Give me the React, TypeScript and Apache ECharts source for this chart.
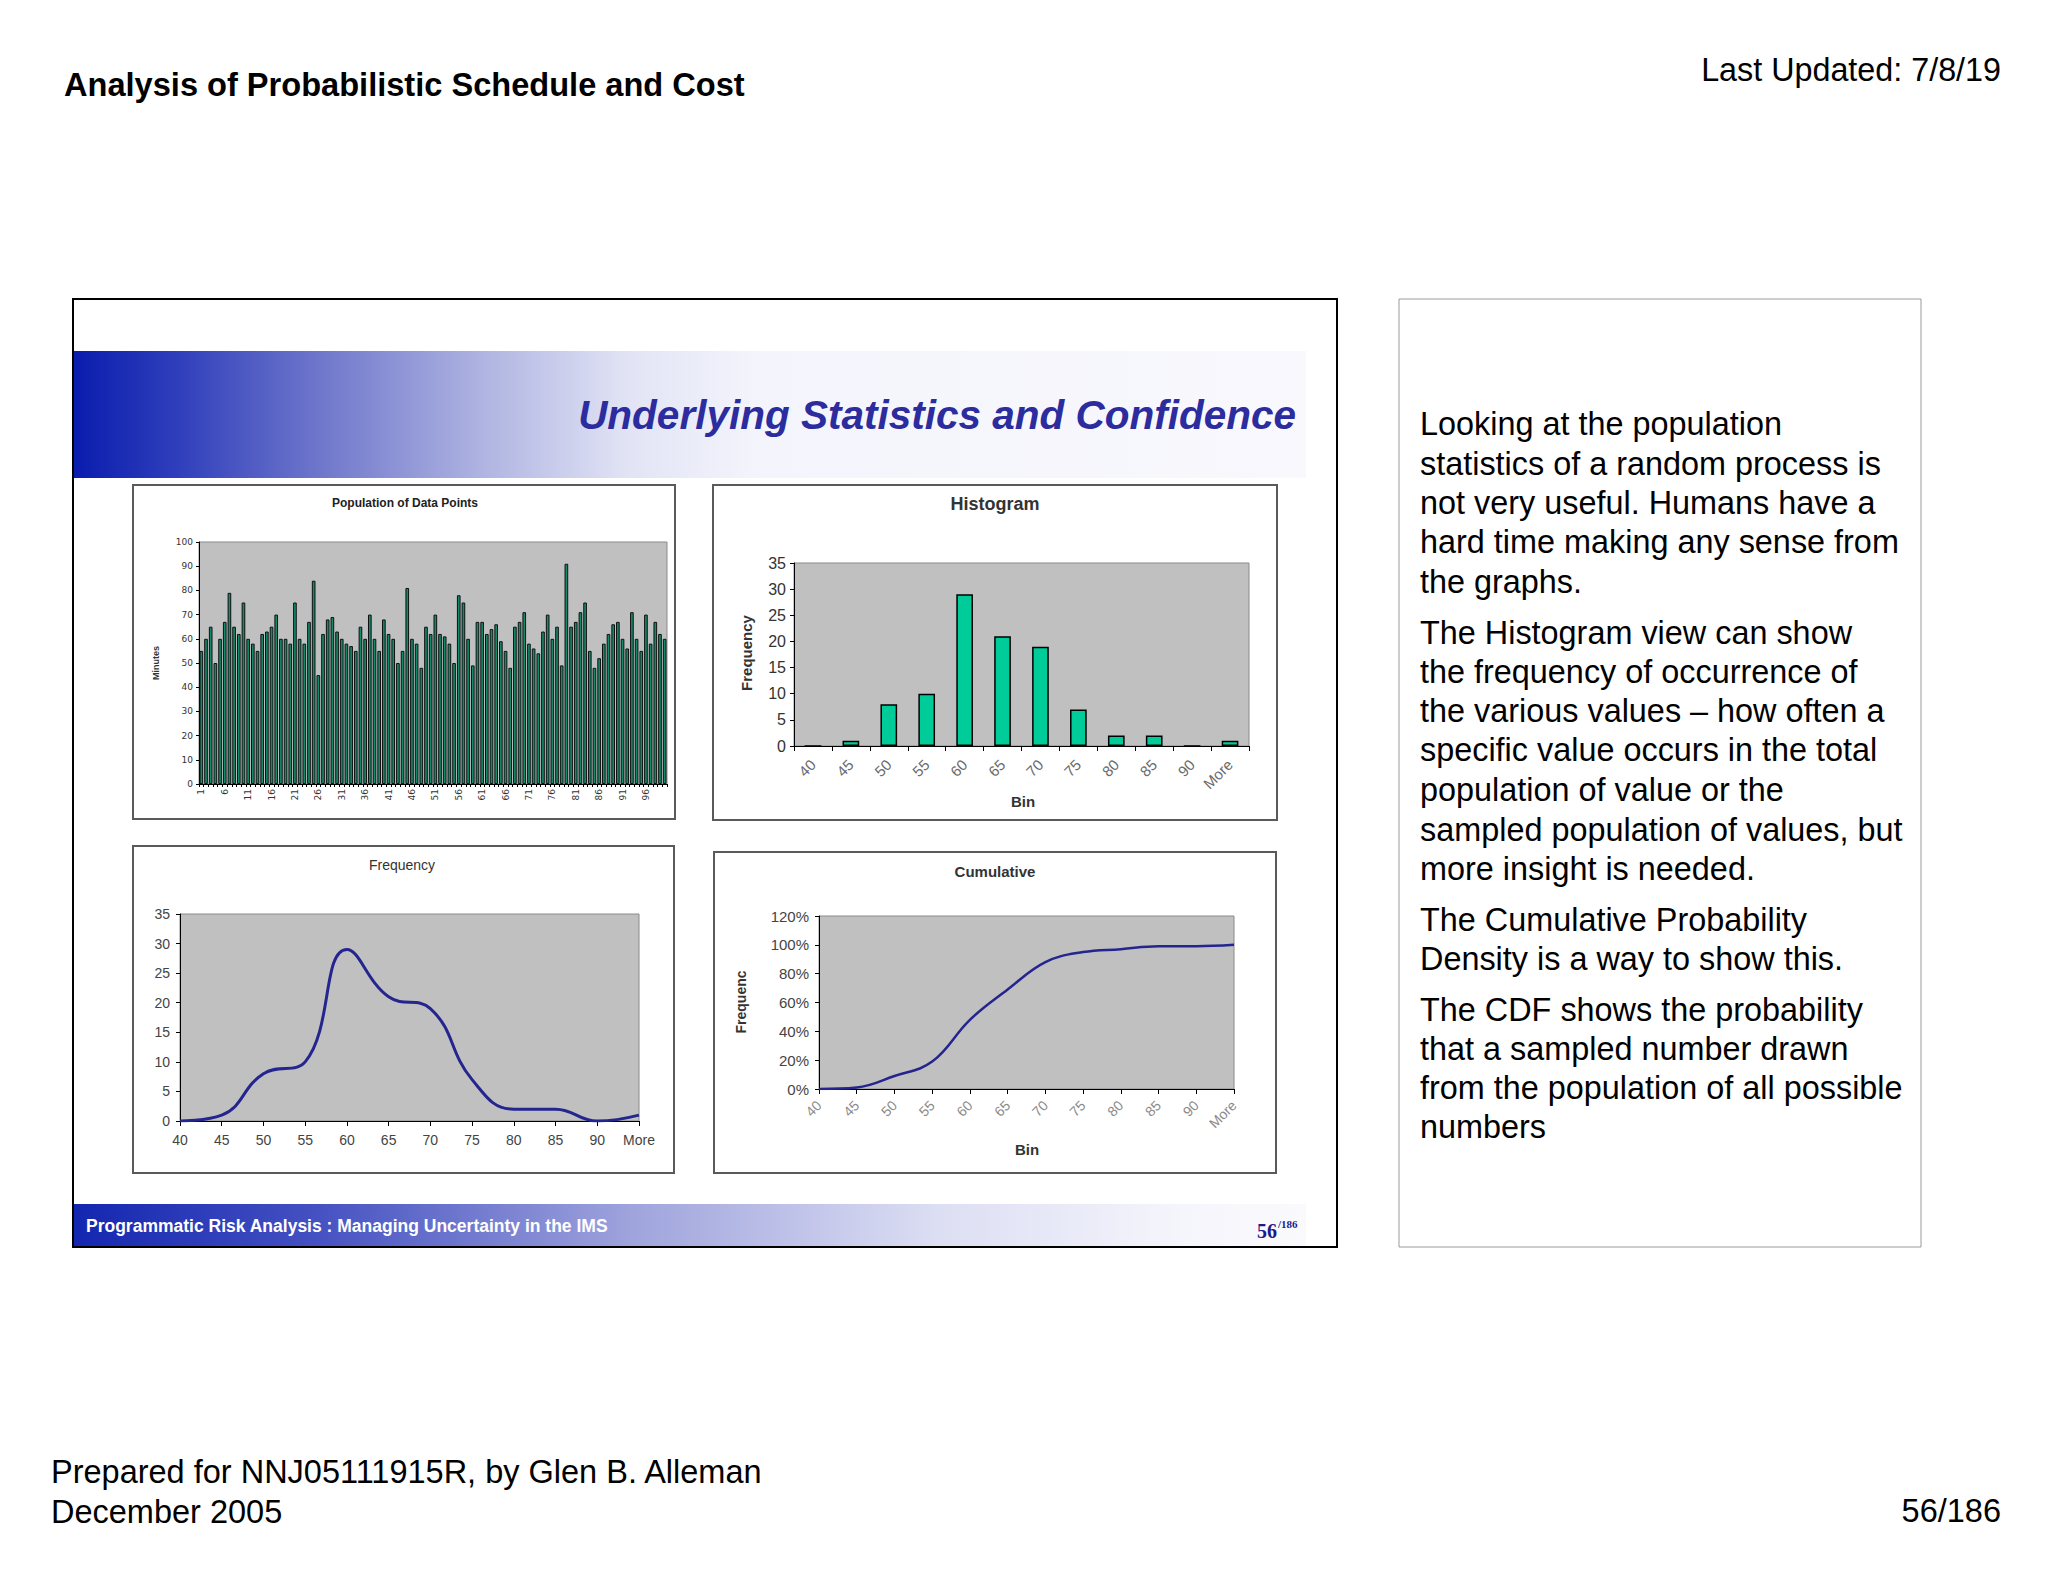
import React, { useEffect, useRef } from "react";
import * as echarts from "echarts";

const W = 2048;
const H = 1582;
const FONT = "'Liberation Sans', Arial, sans-serif";

// Population of data points (minutes), 100 samples
const populationMinutes = [
  55, 60, 65, 50, 60, 67, 79, 65, 62, 75,
  60, 58, 55, 62, 63, 65, 70, 60, 60, 58,
  75, 60, 58, 67, 84, 45, 62, 68, 69, 63,
  60, 58, 57, 55, 65, 60, 70, 60, 55, 68,
  62, 60, 50, 55, 81, 60, 58, 48, 65, 62,
  70, 62, 61, 58, 50, 78, 75, 60, 49, 67,
  67, 62, 64, 66, 59, 55, 48, 65, 67, 71,
  58, 56, 54, 63, 70, 60, 65, 49, 91, 65,
  67, 71, 75, 55, 48, 52, 58, 62, 66, 67,
  60, 56, 71, 60, 55, 70, 58, 67, 62, 60,
];
const populationIndex = populationMinutes.map((_, i) => String(i + 1));

// Histogram bins
const binLabels = ["40", "45", "50", "55", "60", "65", "70", "75", "80", "85", "90", "More"];
const binFrequency = [0, 1, 8, 10, 29, 21, 19, 7, 2, 2, 0, 1];
const cumulativeShare = [0, 0.01, 0.09, 0.19, 0.48, 0.69, 0.88, 0.95, 0.97, 0.99, 0.99, 1.0];

// Right-hand notes
const notesLines = [
  { t: "Looking at the population", y: 424 },
  { t: "statistics of a random process is", y: 464 },
  { t: "not very useful. Humans have a", y: 503 },
  { t: "hard time making any sense from", y: 542 },
  { t: "the graphs.", y: 582 },
  { t: "The Histogram view can show", y: 633 },
  { t: "the frequency of occurrence of", y: 672 },
  { t: "the various values \u2013 how often a", y: 711 },
  { t: "specific value occurs in the total", y: 750 },
  { t: "population of value or the", y: 790 },
  { t: "sampled population of values, but", y: 830 },
  { t: "more insight is needed.", y: 869 },
  { t: "The Cumulative Probability", y: 920 },
  { t: "Density is a way to show this.", y: 959 },
  { t: "The CDF shows the probability", y: 1010 },
  { t: "that a sampled number drawn", y: 1049 },
  { t: "from the population of all possible", y: 1088 },
  { t: "numbers", y: 1127 },
];

function txt(x: number, y: number, text: string, style: any = {}, extra: any = {}) {
  return {
    type: "text",
    x,
    y,
    z: 20,
    ...extra,
    style: {
      text,
      fontFamily: FONT,
      fontSize: 14,
      fill: "#000",
      textAlign: "left",
      textVerticalAlign: "middle",
      verticalAlign: "middle",
      ...style,
    },
  };
}

function box(x: number, y: number, w: number, h: number, stroke: string, lw: number) {
  return {
    type: "rect",
    z: 5,
    shape: { x, y, width: w, height: h },
    style: { fill: "none", stroke, lineWidth: lw },
  };
}

const axisLineBlack = { show: true, onZero: false, lineStyle: { color: "#000", width: 1 } };
const tickBlack = { show: true, length: 4, lineStyle: { color: "#000", width: 1 } };
const noSplit = { show: false };
const gridBase = { show: true, backgroundColor: "#c0c0c0", borderColor: "#8a8a8a", borderWidth: 1, containLabel: false };

function buildOption() {
  const graphic: any[] = [
    // page header / footer texts
    txt(64, 84, "Analysis of Probabilistic Schedule and Cost", { fontSize: 32.6, fontWeight: "bold" }),
    txt(2001, 70, "Last Updated: 7/8/19", { fontSize: 32.3, textAlign: "right" }),
    txt(51, 1472, "Prepared for NNJ05111915R, by Glen B. Alleman", { fontSize: 32.5 }),
    txt(51, 1512, "December 2005", { fontSize: 32.5 }),
    txt(2001, 1511, "56/186", { fontSize: 32.5, textAlign: "right" }),
    // slide frame
    box(73, 299, 1264, 948, "#000", 2),
    {
      type: "rect",
      z: 2,
      shape: { x: 74, y: 351, width: 1232, height: 127 },
      style: {
        fill: new echarts.graphic.LinearGradient(0, 0, 1, 0, [
          { offset: 0, color: "#0a1cae" },
          { offset: 0.08, color: "#2d3dbb" },
          { offset: 0.2, color: "#6f77cb" },
          { offset: 0.33, color: "#aeb3e1" },
          { offset: 0.45, color: "#e2e4f5" },
          { offset: 0.56, color: "#f4f5fc" },
          { offset: 1, color: "#f8f8fd" },
        ]),
      },
    },
    txt(1296, 415, "Underlying Statistics and Confidence", {
      fontSize: 40.5,
      fontWeight: "bold",
      fontStyle: "italic",
      fill: "#2c2c9e",
      textAlign: "right",
    }),
    {
      type: "rect",
      z: 2,
      shape: { x: 74, y: 1204, width: 1232, height: 42 },
      style: {
        fill: new echarts.graphic.LinearGradient(0, 0, 1, 0, [
          { offset: 0, color: "#1326b0" },
          { offset: 0.2, color: "#4652c2" },
          { offset: 0.45, color: "#9ea3dc" },
          { offset: 0.7, color: "#dcdef3" },
          { offset: 0.9, color: "#f5f5fc" },
          { offset: 1, color: "#fafafd" },
        ]),
      },
    },
    txt(86, 1226, "Programmatic Risk Analysis : Managing Uncertainty in the IMS", {
      fontSize: 17.5,
      fontWeight: "bold",
      fill: "#ffffff",
    }),
    txt(1257, 1231, "56", { fontSize: 20, fontWeight: "bold", fontFamily: "'Liberation Serif', serif", fill: "#1a1a8a" }),
    txt(1278, 1224, "/186", { fontSize: 11, fontWeight: "bold", fontFamily: "'Liberation Serif', serif", fill: "#1a1a8a" }),
    // chart frames
    box(133, 485, 542, 334, "#5a5a5a", 2),
    box(713, 485, 564, 335, "#5a5a5a", 2),
    box(133, 846, 541, 327, "#5a5a5a", 2),
    box(714, 852, 562, 321, "#5a5a5a", 2),
    // chart titles
    txt(405, 503, "Population of Data Points", { fontSize: 12, fontWeight: "bold", fill: "#222", textAlign: "center" }),
    txt(995, 504, "Histogram", { fontSize: 18, fontWeight: "bold", fill: "#333", textAlign: "center" }),
    txt(402, 865, "Frequency", { fontSize: 14, fill: "#333", textAlign: "center" }),
    txt(995, 871, "Cumulative", { fontSize: 15, fontWeight: "bold", fill: "#333", textAlign: "center" }),
    // axis names
    txt(156, 663, "Minutes", { fontSize: 9, fontWeight: "bold", fill: "#333", textAlign: "center" }, { rotation: Math.PI / 2 }),
    txt(746, 653, "Frequency", { fontSize: 15, fontWeight: "bold", fill: "#333", textAlign: "center" }, { rotation: Math.PI / 2 }),
    txt(1023, 801, "Bin", { fontSize: 15, fontWeight: "bold", fill: "#333", textAlign: "center" }),
    txt(741, 1002, "Frequenc", { fontSize: 14, fontWeight: "bold", fill: "#333", textAlign: "center" }, { rotation: Math.PI / 2 }),
    txt(1027, 1149, "Bin", { fontSize: 15, fontWeight: "bold", fill: "#333", textAlign: "center" }),
    // notes box
    box(1399, 299, 522, 948, "#9a9a9a", 1),
  ];
  notesLines.forEach((l) => graphic.push(txt(1420, l.y, l.t, { fontSize: 32.4 })));

  return {
    animation: false,
    backgroundColor: "#ffffff",
    textStyle: { fontFamily: FONT },
    graphic,
    grid: [
      { ...gridBase, left: 199, top: 542, width: 468, height: 242 },
      { ...gridBase, left: 794, top: 563, width: 455, height: 183 },
      { ...gridBase, left: 180, top: 914, width: 459, height: 207 },
      { ...gridBase, left: 819, top: 916, width: 415, height: 173 },
    ],
    xAxis: [
      {
        gridIndex: 0,
        type: "category",
        data: populationIndex,
        boundaryGap: true,
        axisLine: axisLineBlack,
        axisTick: { ...tickBlack, length: 3, interval: 0 },
        axisLabel: { interval: 4, rotate: 90, fontSize: 9, color: "#333", fontFamily: "'DejaVu Sans', sans-serif", margin: 5 },
        splitLine: noSplit,
      },
      {
        gridIndex: 1,
        type: "category",
        data: binLabels,
        boundaryGap: true,
        axisLine: axisLineBlack,
        axisTick: { ...tickBlack, length: 5, interval: 0 },
        axisLabel: { interval: 0, rotate: 45, fontSize: 15, color: "#6a6a6a", margin: 16 },
        splitLine: noSplit,
      },
      {
        gridIndex: 2,
        type: "category",
        data: binLabels,
        boundaryGap: false,
        axisLine: axisLineBlack,
        axisTick: { ...tickBlack, length: 5, interval: 0 },
        axisLabel: { interval: 0, fontSize: 14, color: "#444", margin: 12 },
        splitLine: noSplit,
      },
      {
        gridIndex: 3,
        type: "category",
        data: binLabels,
        boundaryGap: false,
        axisLine: axisLineBlack,
        axisTick: { ...tickBlack, length: 5, interval: 0 },
        axisLabel: { interval: 0, rotate: 45, fontSize: 14, color: "#8a8a8a", margin: 14 },
        splitLine: noSplit,
      },
    ],
    yAxis: [
      {
        gridIndex: 0,
        type: "value",
        min: 0,
        max: 100,
        interval: 10,
        axisLine: axisLineBlack,
        axisTick: { ...tickBlack, length: 3 },
        axisLabel: { fontSize: 9, color: "#333", fontFamily: "'DejaVu Sans', sans-serif", margin: 6 },
        splitLine: noSplit,
      },
      {
        gridIndex: 1,
        type: "value",
        min: 0,
        max: 35,
        interval: 5,
        axisLine: axisLineBlack,
        axisTick: tickBlack,
        axisLabel: { fontSize: 16, color: "#333", margin: 8 },
        splitLine: noSplit,
      },
      {
        gridIndex: 2,
        type: "value",
        min: 0,
        max: 35,
        interval: 5,
        axisLine: axisLineBlack,
        axisTick: tickBlack,
        axisLabel: { fontSize: 14, color: "#444", margin: 10 },
        splitLine: noSplit,
      },
      {
        gridIndex: 3,
        type: "value",
        min: 0,
        max: 1.2,
        interval: 0.2,
        axisLine: axisLineBlack,
        axisTick: tickBlack,
        axisLabel: { fontSize: 15, color: "#444", margin: 10, formatter: (v: number) => Math.round(v * 100) + "%" },
        splitLine: noSplit,
      },
    ],
    series: [
      {
        type: "bar",
        xAxisIndex: 0,
        yAxisIndex: 0,
        data: populationMinutes,
        barCategoryGap: "22%",
        itemStyle: { color: "#15896a", borderColor: "#101010", borderWidth: 1 },
      },
      {
        type: "bar",
        xAxisIndex: 1,
        yAxisIndex: 1,
        data: binFrequency,
        barWidth: "44%",
        itemStyle: { color: "#00cc99", borderColor: "#000", borderWidth: 1.5 },
      },
      {
        type: "line",
        xAxisIndex: 2,
        yAxisIndex: 2,
        data: binFrequency,
        smooth: 0.45,
        symbol: "none",
        lineStyle: { color: "#25258f", width: 3 },
      },
      {
        type: "line",
        xAxisIndex: 3,
        yAxisIndex: 3,
        data: cumulativeShare,
        smooth: 0.4,
        symbol: "none",
        lineStyle: { color: "#25258f", width: 2.5 },
      },
    ],
  };
}

export default function App() {
  const ref = useRef<HTMLDivElement>(null);
  useEffect(() => {
    document.body.style.margin = "0";
    const chart = echarts.init(ref.current!, null, { renderer: "svg", width: W, height: H });
    chart.setOption(buildOption() as any);
    return () => chart.dispose();
  }, []);
  return <div ref={ref} style={{ width: W, height: H }} />;
}
